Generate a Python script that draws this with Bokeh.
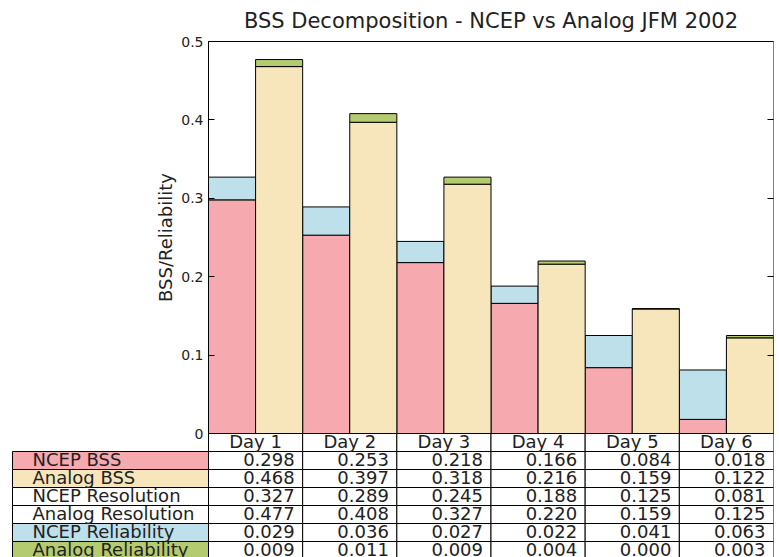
from bokeh.plotting import figure
from bokeh.models import Range1d, FixedTicker, LinearAxis, ColumnDataSource
from bokeh.core.properties import value
from bokeh.embed import file_html
from bokeh.resources import INLINE

# ---------------- data ----------------
days = ["Day 1", "Day 2", "Day 3", "Day 4", "Day 5", "Day 6"]
ncep_bss = [0.298, 0.253, 0.218, 0.166, 0.084, 0.018]
analog_bss = [0.468, 0.397, 0.318, 0.216, 0.159, 0.122]
ncep_res = [0.327, 0.289, 0.245, 0.188, 0.125, 0.081]
analog_res = [0.477, 0.408, 0.327, 0.220, 0.159, 0.125]
ncep_rel = [0.029, 0.036, 0.027, 0.022, 0.041, 0.063]
analog_rel = [0.009, 0.011, 0.009, 0.004, 0.000, 0.003]
row_labels = ["NCEP BSS", "Analog BSS", "NCEP Resolution", "Analog Resolution",
              "NCEP Reliability", "Analog Reliability"]
y_ticks = [0, 0.1, 0.2, 0.3, 0.4, 0.5]
y_tick_labels = ["0", "0.1", "0.2", "0.3", "0.4", "0.5"]
title_text = "BSS Decomposition - NCEP vs Analog JFM 2002"

# ---------------- styles / geometry ----------------
PINK = "#F7A9B0"
WHEAT = "#F7E6BC"
BLUE = "#BEE0EA"
GREEN = "#B5CB70"
TXT = "#222222"
FONT = value("DejaVu Sans")
row_colors = [PINK, WHEAT, "white", "white", BLUE, GREEN]

W, H = 779, 557
LEFT, RIGHT, TOP = 11, 6, 41
CHART_H = 392          # px height of the chart area
TABLE_H = H - TOP - CHART_H
ROW_PX = 18.0
COL_PX = 565 / len(days)
LABEL_UNITS = 196 / COL_PX
FRAME_LEFT_UNITS = 197 / COL_PX
ymax = y_ticks[-1]
px_per_unit = CHART_H / ymax
TEXT_POS = 0.43        # vertical position of text inside a table row (0 = top, 1 = bottom)

p = figure(width=W, height=H,
           x_range=Range1d(-FRAME_LEFT_UNITS, len(days)),
           y_range=Range1d(-TABLE_H / px_per_unit, ymax + TOP / px_per_unit),
           output_backend="svg", toolbar_location=None, x_axis_location=None,
           min_border_left=LEFT, min_border_right=RIGHT, min_border_top=0,
           min_border_bottom=0)
p.extra_y_ranges = {"tbl": Range1d(TABLE_H / ROW_PX, -(CHART_H + TOP) / ROW_PX)}
p.grid.visible = False
p.outline_line_color = None
p.background_fill_color = "white"
p.border_fill_color = "white"

ya = p.yaxis[0]
ya.fixed_location = 0
ya.bounds = (0, ymax)
ya.ticker = FixedTicker(ticks=y_ticks)
ya.major_label_overrides = {t: l for t, l in zip(y_ticks, y_tick_labels)}
ya.major_tick_in = 6
ya.major_tick_out = 0
ya.minor_tick_in = 0
ya.minor_tick_out = 0
ya.major_tick_line_color = "black"
ya.axis_line_color = "black"
ya.major_label_text_font = "DejaVu Sans"
ya.major_label_text_font_size = "14px"
ya.major_label_text_color = TXT
ya.major_label_standoff = 5
ya.axis_label = "BSS/Reliability"
ya.axis_label_text_font = "DejaVu Sans"
ya.axis_label_text_font_size = "18px"
ya.axis_label_text_font_style = "normal"
ya.axis_label_text_color = TXT
ya.axis_label_standoff = 2

ra = LinearAxis(ticker=FixedTicker(ticks=y_ticks), bounds=(0, ymax),
                major_tick_in=6, major_tick_out=0,
                minor_tick_in=0, minor_tick_out=0, axis_line_color=None,
                major_label_text_font_size="0px", major_label_text_alpha=0,
                major_label_standoff=0)
p.add_layout(ra, "right")

idx = list(range(len(days)))
src = ColumnDataSource(dict(
    xn=[i + 0.25 for i in idx], xa=[i + 0.75 for i in idx],
    ncep_bss=ncep_bss, ncep_res=ncep_res, analog_bss=analog_bss, analog_res=analog_res))

# title
p.text(x=[len(days) / 2], y=[ymax + 20.5 / px_per_unit], text=[title_text],
       text_align="center", text_baseline="middle", text_font=FONT,
       text_font_size="21px", text_color=TXT)

# chart box
p.quad(left=[0], right=[len(days)], bottom=[0], top=[ymax], fill_color=None,
       line_color="black", line_width=1)

p.vbar(x="xn", width=0.5, bottom=0, top="ncep_bss", source=src,
       fill_color=PINK, line_color="black", line_width=1)
p.vbar(x="xn", width=0.5, bottom="ncep_bss", top="ncep_res", source=src,
       fill_color=BLUE, line_color="black", line_width=1)
p.vbar(x="xa", width=0.5, bottom=0, top="analog_bss", source=src,
       fill_color=WHEAT, line_color="black", line_width=1)
p.vbar(x="xa", width=0.5, bottom="analog_bss", top="analog_res", source=src,
       fill_color=GREEN, line_color="black", line_width=1)

# ---------------- table ----------------
rows_vals = [ncep_bss, analog_bss, ncep_res, analog_res, ncep_rel, analog_rel]

cl, cr, ct, cb, cf = [], [], [], [], []
for i in idx:
    cl.append(i); cr.append(i + 1); ct.append(0); cb.append(1); cf.append("white")
for r, vals in enumerate(rows_vals):
    cl.append(-LABEL_UNITS); cr.append(0); ct.append(r + 1); cb.append(r + 2); cf.append(row_colors[r])
    for i in idx:
        cl.append(i); cr.append(i + 1); ct.append(r + 1); cb.append(r + 2); cf.append("white")
p.quad(left=cl, right=cr, top=ct, bottom=cb, fill_color=cf, line_color="black",
       line_width=1, y_range_name="tbl")

p.text(x=[i + 0.5 for i in idx], y=[TEXT_POS] * len(idx), text=days, text_align="center",
       text_baseline="middle", text_font=FONT, text_font_size="18px",
       text_color=TXT, y_range_name="tbl")
p.text(x=[-LABEL_UNITS] * len(row_labels),
       y=[r + 1 + TEXT_POS for r in range(len(row_labels))],
       text=row_labels, text_align="left", text_baseline="middle", x_offset=20,
       text_font=FONT, text_font_size="18px", text_color=TXT, y_range_name="tbl")
vx, vy, vt = [], [], []
for r, vals in enumerate(rows_vals):
    for i, v in zip(idx, vals):
        vx.append(i + 1); vy.append(r + 1 + TEXT_POS); vt.append(f"{v:.3f}")
p.text(x=vx, y=vy, text=vt, text_align="right", text_baseline="middle", x_offset=-8,
       text_font=FONT, text_font_size="18px", text_color=TXT, y_range_name="tbl")

open("out.html", "w").write(file_html(p, INLINE))
